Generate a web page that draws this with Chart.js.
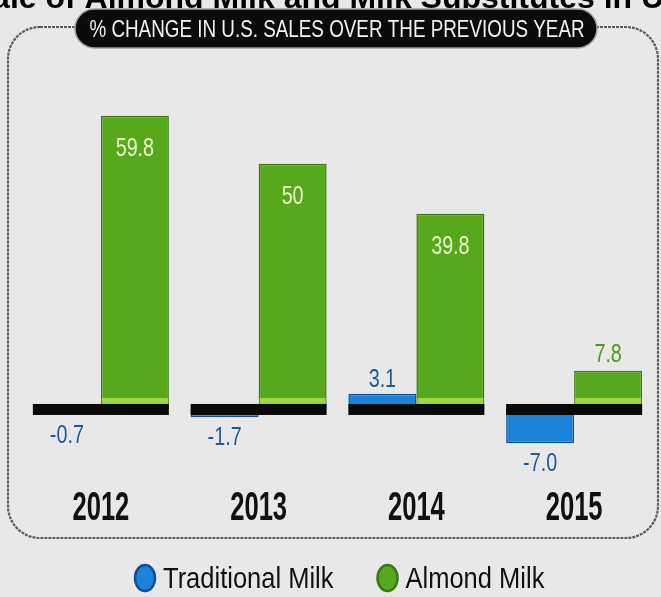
<!DOCTYPE html>
<html>
<head>
<meta charset="utf-8">
<script src="https://cdn.jsdelivr.net/npm/chart.js@4.4.1/dist/chart.umd.min.js"></script>
<style>
  html, body { margin: 0; padding: 0; background: #e8e8e8; overflow: hidden; }
  #chart { display: block; }
</style>
</head>
<body>
<canvas id="chart" width="661" height="597"></canvas>
<script>
// data
const years = ['2012', '2013', '2014', '2015'];
const traditionalMilk = [-0.7, -1.7, 3.1, -7.0];
const almondMilk = [59.8, 50, 39.8, 7.8];
const traditionalText = ['-0.7', '-1.7', '3.1', '-7.0'];
const almondText = ['59.8', '50', '39.8', '7.8'];
const seriesNames = ['Traditional Milk', 'Almond Milk'];

const chartTitle = 'Sale of Almond Milk and Milk Substitutes in U.S.';
const badgeTitle = '% CHANGE IN U.S. SALES OVER THE PREVIOUS YEAR';

const SANS = '"Liberation Sans", Arial, sans-serif';

// squeezed text, like the condensed face of the original
function narrowText(ctx, text, x, y, font, color, squeeze, align) {
    ctx.save();
    ctx.font = font;
    ctx.fillStyle = color;
    ctx.textAlign = align || 'center';
    ctx.translate(x, y);
    ctx.scale(squeeze, 1);
    ctx.fillText(text, 0, 0);
    ctx.restore();
}

// frame, cut-off title and black badge
const decor = {
    id: 'decor',
    beforeDraw(chart) {
        const ctx = chart.ctx;
        ctx.save();
        ctx.fillStyle = '#e8e8e8';
        ctx.fillRect(0, 0, chart.width, chart.height);

        ctx.setLineDash([3, 1]);
        ctx.lineWidth = 2.2;
        ctx.strokeStyle = '#5c5c5c';
        ctx.beginPath();
        ctx.roundRect(8, 27, 650, 511, 32);
        ctx.stroke();
        ctx.setLineDash([]);

        ctx.font = 'bold 32px ' + SANS;
        ctx.fillStyle = '#000';
        ctx.textAlign = 'center';
        ctx.textBaseline = 'alphabetic';
        ctx.fillText(chartTitle, 337, 8);

        ctx.fillStyle = '#0b0b0b';
        ctx.strokeStyle = '#a0a0a0';
        ctx.lineWidth = 1.5;
        ctx.beginPath();
        ctx.roundRect(75, 9, 522, 39, 19.5);
        ctx.fill();
        ctx.stroke();

        ctx.textBaseline = 'alphabetic';
        narrowText(ctx, badgeTitle, 337, 37, '24px ' + SANS, '#f2f2f2', 0.785);
        ctx.restore();
    }
};

// black zero band under each year, value labels, year labels, legend
const marks = {
    id: 'marks',
    afterDatasetsDraw(chart) {
        const ctx = chart.ctx;
        const zeroY = chart.scales.y.getPixelForValue(0);
        const blue = chart.getDatasetMeta(0).data;
        const green = chart.getDatasetMeta(1).data;

        ctx.save();
        green.forEach((bar, i) => {
            if (almondMilk[i] > 0) {
                ctx.fillStyle = '#9fd63c';
                ctx.fillRect(bar.x - bar.width / 2 + 1, zeroY - 11, bar.width - 2, 6);
            }
        });
        years.forEach((y, i) => {
            const left = blue[i].x - blue[i].width / 2;
            const right = green[i].x + green[i].width / 2;
            ctx.fillStyle = '#0a0a0a';
            ctx.fillRect(left, zeroY - 5, right - left, 11);
        });

        ctx.textBaseline = 'middle';
        const valueFont = '26px ' + SANS;
        blue.forEach((bar, i) => {
            const v = traditionalMilk[i];
            const y = v >= 0 ? bar.y - 14 : Math.max(bar.y, zeroY + 6) + 21;
            narrowText(ctx, traditionalText[i], bar.x, y, valueFont, '#1d5a96', 0.76);
        });
        green.forEach((bar, i) => {
            if (almondMilk[i] > 20) {
                narrowText(ctx, almondText[i], bar.x, bar.y + 33, valueFont, '#eef6cf', 0.76);
            } else {
                narrowText(ctx, almondText[i], bar.x, bar.y - 16, valueFont, '#4f991c', 0.76);
            }
        });

        // year labels on the category positions of the x scale
        ctx.textBaseline = 'alphabetic';
        const xs = chart.scales.x;
        chart.data.labels.forEach((lab, i) => {
            narrowText(ctx, lab, xs.getPixelForValue(i), 520, 'bold 40px ' + SANS, '#111', 0.64);
        });
        ctx.restore();
    },
    afterDraw(chart) {
        const ctx = chart.ctx;
        const font = '30px ' + SANS;
        let x = 145;
        ctx.save();
        ctx.textBaseline = 'alphabetic';
        chart.data.datasets.forEach(ds => {
            ctx.beginPath();
            ctx.ellipse(x, 578, 10, 13, 0, 0, Math.PI * 2);
            ctx.fillStyle = ds.backgroundColor;
            ctx.fill();
            ctx.lineWidth = 2.5;
            ctx.strokeStyle = ds.borderColor;
            ctx.stroke();
            narrowText(ctx, ds.label, x + 18, 588, font, '#111', 0.85, 'left');
            ctx.font = font;
            x += 18 + ctx.measureText(ds.label).width * 0.85 + 54;
        });
        ctx.restore();
    }
};

new Chart(document.getElementById('chart'), {
    type: 'bar',
    data: {
        labels: years,
        datasets: [{
            label: seriesNames[0],
            data: traditionalMilk,
            backgroundColor: '#1b84d8',
            borderColor: '#0e4f96',
            borderWidth: 1.5
        }, {
            label: seriesNames[1],
            data: almondMilk,
            backgroundColor: '#57a81d',
            borderColor: '#3b7a12',
            borderWidth: 1.5
        }]
    },
    options: {
        responsive: false,
        animation: false,
        devicePixelRatio: 1,
        layout: {
            padding: {top: 105, left: 22, right: 8, bottom: 139}
        },
        datasets: {
            bar: {categoryPercentage: 0.862, barPercentage: 1.0}
        },
        plugins: {
            legend: {display: false},
            tooltip: {enabled: false},
            title: {display: false}
        },
        scales: {
            x: {display: false},
            y: {display: false, min: -10, max: 62}
        }
    },
    plugins: [decor, marks]
});
</script>
</body>
</html>
